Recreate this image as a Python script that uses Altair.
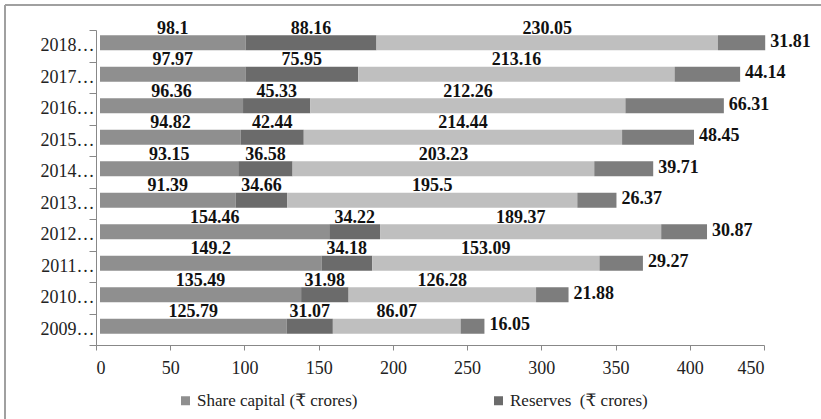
import altair as alt
import pandas as pd

years = ["2018…", "2017…", "2016…", "2015…", "2014…", "2013…", "2012…", "2011…", "2010…", "2009…"]
share_capital = [98.1, 97.97, 96.36, 94.82, 93.15, 91.39, 154.46, 149.2, 135.49, 125.79]
reserves = [88.16, 75.95, 45.33, 42.44, 36.58, 34.66, 34.22, 34.18, 31.98, 31.07]
series3 = [230.05, 213.16, 212.26, 214.44, 203.23, 195.5, 189.37, 153.09, 126.28, 86.07]
series4 = [31.81, 44.14, 66.31, 48.45, 39.71, 26.37, 30.87, 29.27, 21.88, 16.05]

names = ["Share capital (₹ crores)", "Reserves\u00a0 (₹ crores)", "Series 3", "Series 4"]
colors = ["#8f8f8f", "#6b6b6b", "#bfbfbf", "#7d7d7d"]
x_ticks = [0, 50, 100, 150, 200, 250, 300, 350, 400, 450]

rows = []
for i, y in enumerate(years):
    start = 0.0
    for k, vals in enumerate([share_capital, reserves, series3, series4]):
        v = vals[i]
        rows.append({"year": y, "series": names[k], "order": k + 1, "value": v,
                     "label": str(v), "start": start, "end": start + v,
                     "mid": start + v / 2})
        start += v
df = pd.DataFrame(rows)

FONT = "Liberation Serif, 'Times New Roman', 'DejaVu Serif', serif"

xscale = alt.Scale(domain=[0, 450], nice=False)
yscale = alt.Scale(domain=years, paddingInner=0, paddingOuter=0)

base = alt.Chart(df)

bars = base.mark_bar(size=15, xOffset=4, x2Offset=4, yOffset=-3).encode(
    x=alt.X("start:Q", scale=xscale, title=None,
            axis=alt.Axis(values=x_ticks, grid=False, domainColor="#888888",
                          tickColor="#888888", tickSize=5, labelPadding=9,
                          labelFont=FONT, labelFontSize=18, labelColor="#222222")),
    x2="end:Q",
    y=alt.Y("year:N", scale=yscale, sort=years, title=None,
            axis=alt.Axis(grid=False, domainColor="#888888", tickColor="#888888",
                          tickSize=7, tickBand="extent", labelPadding=-5,
                          labelFont=FONT, labelFontSize=18, labelColor="#222222")),
    color=alt.Color("series:N", scale=alt.Scale(domain=names, range=colors),
                    legend=alt.Legend(values=names[:2], title=None, orient="none",
                                      direction="horizontal", legendX=81, legendY=362,
                                      symbolType="square", symbolSize=81,
                                      symbolStrokeWidth=0, labelFont=FONT,
                                      labelFontSize=17, labelColor="#222222",
                                      labelLimit=400,
                                      columnPadding=132, labelOffset=3, padding=0)),
    order=alt.Order("order:Q"),
)

top_labels = base.transform_filter("datum.order < 4").mark_text(
    font=FONT, fontSize=18, fontWeight="bold", color="#111111",
    baseline="middle", align="center", dx=4, dy=-17,
).encode(
    x=alt.X("mid:Q", scale=xscale),
    y=alt.Y("year:N", scale=yscale, sort=years),
    text="label:N",
)

end_labels = base.transform_filter("datum.order == 4").mark_text(
    font=FONT, fontSize=18, fontWeight="bold", color="#111111",
    baseline="middle", align="left", dx=9, dy=-4,
).encode(
    x=alt.X("end:Q", scale=xscale),
    y=alt.Y("year:N", scale=yscale, sort=years),
    text="label:N",
)

frame_data = alt.Data(values=[{"f": 1}])
frame_top = alt.Chart(frame_data).mark_rule(color="#a0a0a0", strokeWidth=2).encode(
    x=alt.value(-91), x2=alt.value(740), y=alt.value(-25))
frame_left = alt.Chart(frame_data).mark_rule(color="#a0a0a0", strokeWidth=2).encode(
    x=alt.value(-91), y=alt.value(-25), y2=alt.value(400))

chart = alt.layer(bars, top_labels, end_labels, frame_top, frame_left).properties(
    width=668, height=315,
    autosize=alt.AutoSizeParams(type="none"),
    padding={"left": 96, "top": 30, "right": 57, "bottom": 74},
    background="white",
).configure_view(stroke="transparent")

chart.save("out.html", embed_options={"renderer": "svg", "actions": False})
